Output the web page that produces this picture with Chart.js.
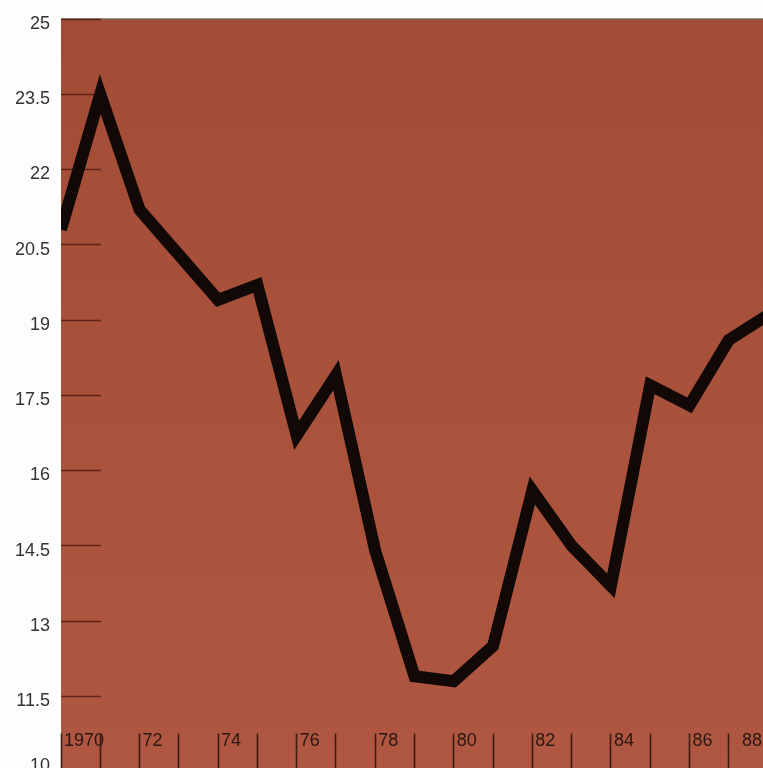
<!DOCTYPE html>
<html>
<head>
<meta charset="utf-8">
<script src="https://cdn.jsdelivr.net/npm/chart.js@4/dist/chart.umd.min.js"></script>
<style>
  html, body { margin: 0; padding: 0; background: #fdfdfc; overflow: hidden; width: 763px; height: 768px; }
  #wrap { position: absolute; left: 0; top: 0; width: 790px; height: 800px; }
</style>
</head>
<body>
<div id="wrap"><canvas id="c" width="790" height="800"></canvas></div>
<script>
// Years on the horizontal axis and the labels printed under them
const years = ['1970','1971','1972','1973','1974','1975','1976','1977','1978','1979',
               '1980','1981','1982','1983','1984','1985','1986','1987','1988'];
const yearLabels = ['1970','','72','','74','','76','','78','','80','','82','','84','','86','','88'];

// Yearly values of the series
const values = [20.8, 23.5, 21.2, 20.3, 19.4, 19.7, 16.7, 17.9, 14.4, 11.9,
                11.8, 12.5, 15.6, 14.5, 13.7, 17.7, 17.3, 18.6, 19.1];

// Vertical axis ticks
const yTicks = [10, 11.5, 13, 14.5, 16, 17.5, 19, 20.5, 22, 23.5, 25];
const yTickLabels = ['10', '11.5', '13', '14.5', '16', '17.5', '19', '20.5', '22', '23.5', '25'];

const lastIndex = years.length - 1;
const yFont = { family: '"Liberation Sans", Arial, sans-serif', size: 18 };
const xFont = { family: '"Liberation Sans", Arial, sans-serif', size: 18 };

// Rust-coloured plot panel with a thin rule along its top
const plotBackground = {
  id: 'plotBackground',
  beforeDraw(chart) {
    const { ctx, chartArea: a } = chart;
    const g = ctx.createLinearGradient(0, a.top, 0, a.bottom);
    g.addColorStop(0, '#A24B35');
    g.addColorStop(1, '#AF5741');
    ctx.save();
    ctx.fillStyle = g;
    ctx.fillRect(a.left, a.top, a.right - a.left, a.bottom - a.top);
    ctx.strokeStyle = '#7d6861';
    ctx.lineWidth = 1.5;
    ctx.beginPath();
    ctx.moveTo(a.left, a.top);
    ctx.lineTo(a.right, a.top);
    ctx.stroke();
    ctx.restore();
  }
};

new Chart(document.getElementById('c'), {
  type: 'line',
  data: {
    labels: years,
    datasets: [{
      data: values,
      borderColor: '#120907',
      borderWidth: 12,
      borderJoinStyle: 'miter',
      borderCapStyle: 'butt',
      pointRadius: 0,
      tension: 0,
      fill: false,
      clip: 0,
      xAxisID: 'x',
      yAxisID: 'y'
    }]
  },
  options: {
    responsive: false,
    animation: false,
    devicePixelRatio: 1,
    layout: { padding: { left: 0, top: 19, right: 22, bottom: 28.5 } },
    plugins: { legend: { display: false }, tooltip: { enabled: false } },
    scales: {
      y: {
        type: 'linear',
        position: 'left',
        min: 10,
        max: 25,
        afterBuildTicks(scale) { scale.ticks = yTicks.map(v => ({ value: v })); },
        afterFit(scale) { scale.width = 61; scale.paddingTop = 0; scale.paddingBottom = 0; },
        border: { display: false },
        grid: {
          drawOnChartArea: false,
          drawTicks: true,
          tickLength: -40,
          tickColor: '#5e2417',
          tickWidth: 1.6
        },
        ticks: {
          padding: 51,
          labelOffset: 5,
          color: '#353331',
          font: yFont,
          callback(value, index) {
            const t = yTickLabels[index];
            return index === 0 ? [t, ''] : t;
          }
        }
      },
      x: {
        type: 'category',
        position: 'bottom',
        offset: false,
        afterFit(scale) { scale.height = 0; scale.paddingLeft = 0; scale.paddingRight = 0; },
        border: { display: false },
        grid: {
          drawOnChartArea: false,
          drawTicks: true,
          tickLength: -38,
          tickColor: '#3f1a11',
          tickWidth: 1.6
        },
        ticks: {
          autoSkip: false,
          maxRotation: 0,
          minRotation: 0,
          mirror: true,
          align: 'start',
          labelOffset: 3,
          padding: 19.8,
          color: '#2a1712',
          font: xFont,
          callback(value, index) { return index === lastIndex ? '' : yearLabels[index]; }
        }
      },
      // final year label, set flush right so it stays inside the panel
      xEnd: {
        type: 'category',
        position: 'bottom',
        offset: false,
        afterFit(scale) { scale.height = 0; scale.paddingLeft = 0; scale.paddingRight = 0; },
        border: { display: false },
        grid: { display: false, drawTicks: false },
        ticks: {
          autoSkip: false,
          maxRotation: 0,
          minRotation: 0,
          mirror: true,
          align: 'end',
          labelOffset: -6,
          padding: 19.8,
          color: '#2a1712',
          font: xFont,
          callback(value, index) { return index === lastIndex ? yearLabels[index] : ''; }
        }
      }
    }
  },
  plugins: [plotBackground]
});
</script>
</body>
</html>
